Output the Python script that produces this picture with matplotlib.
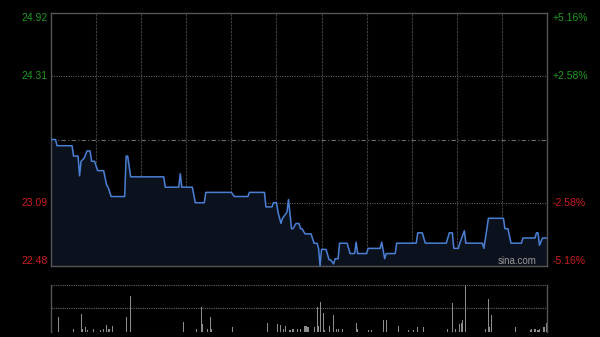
import matplotlib
matplotlib.use("Agg")
import matplotlib.pyplot as plt
import matplotlib.transforms as mtransforms

plt.rcParams['font.family'] = ['Liberation Sans', 'DejaVu Sans']

# intraday price (minute of the 330-minute session, price)
times = [0, 3, 4, 14, 15, 18, 19, 20, 22, 24, 26, 27, 29, 31, 35, 37, 38, 40, 49, 50,
         51, 53, 75, 76, 85, 86, 87, 94, 96, 102, 103, 120, 122, 131, 132, 142, 143, 147, 148, 150,
         151, 153, 154, 157, 158, 160, 161, 163, 165, 166, 167, 169, 173, 175, 177, 178, 179, 180, 183, 185,
         186, 188, 189, 191, 192, 197, 199, 202, 203, 204, 210, 211, 219, 220, 222, 223, 229, 230, 243, 244,
         247, 249, 263, 265, 267, 268, 271, 272, 275, 276, 287, 288, 290, 291, 301, 302, 304, 306, 313, 314,
         322, 323, 324, 325, 327, 330]
prices = [23.70, 23.70, 23.64, 23.64, 23.54, 23.54, 23.35, 23.49, 23.52, 23.59, 23.59, 23.49, 23.49, 23.40, 23.40, 23.26, 23.24, 23.15, 23.15, 23.54,
          23.54, 23.34, 23.34, 23.24, 23.24, 23.37, 23.24, 23.24, 23.09, 23.09, 23.19, 23.19, 23.15, 23.15, 23.19, 23.19, 23.05, 23.05, 23.09, 23.09,
          23.00, 22.89, 22.94, 23.00, 23.12, 22.84, 22.84, 22.89, 22.89, 22.84, 22.84, 22.79, 22.79, 22.70, 22.70, 22.65, 22.48, 22.64, 22.64, 22.54,
          22.54, 22.50, 22.55, 22.55, 22.70, 22.70, 22.60, 22.60, 22.71, 22.60, 22.60, 22.65, 22.65, 22.71, 22.55, 22.60, 22.60, 22.70, 22.70, 22.80,
          22.80, 22.70, 22.70, 22.80, 22.80, 22.65, 22.65, 22.70, 22.82, 22.70, 22.70, 22.65, 22.84, 22.94, 22.94, 22.84, 22.84, 22.70, 22.70, 22.75,
          22.75, 22.80, 22.80, 22.68, 22.75, 22.75]

# volume (relative, tallest bar = 100)
vol_times = [5, 15, 20, 21, 23, 24, 28, 33, 35, 37, 38, 39, 41, 50, 53, 88, 97, 100, 101, 104,
             106, 107, 121, 144, 151, 153, 155, 156, 159, 161, 164, 166, 169, 170, 171, 175, 177, 178, 179, 181,
             182, 185, 188, 190, 191, 194, 203, 204, 211, 213, 221, 223, 231, 238, 241, 244, 248, 264, 267, 269,
             272, 273, 274, 276, 289, 291, 292, 293, 309, 319, 320, 322, 324, 325, 328, 330]
vol_values = [31, 5, 37, 5, 9, 4, 5, 3, 5, 14, 5, 6, 12, 31, 76, 21, 6, 52, 16, 6,
              31, 5, 9, 19, 16, 14, 5, 12, 4, 6, 5, 5, 12, 12, 9, 9, 52, 12, 64, 41,
              4, 12, 35, 6, 5, 5, 19, 5, 4, 4, 26, 25, 12, 4, 4, 9, 9, 6, 61, 5,
              16, 19, 25, 100, 6, 71, 9, 35, 9, 4, 5, 6, 4, 5, 9, 19]

prev_close = 23.70
price_levels = [24.92, 24.31, 23.09, 22.48]
price_labels = ["24.92", "24.31", "23.09", "22.48"]
pct_labels = ["+5.16%", "+2.58%", "-2.58%", "-5.16%"]

fig = plt.figure(figsize=(6, 3.37), dpi=100, facecolor='black')
ax = fig.add_axes([51 / 600, 71 / 337, 496 / 600, 253 / 337])
axv = fig.add_axes([51 / 600, 5.3 / 337, 496 / 600, 46.7 / 337])

for a in (ax, axv):
    a.set_facecolor('black')
    a.set_xlim(0, 330)
    a.set_xticks([])
    a.set_yticks([])
    for s in a.spines.values():
        s.set_color('#555555')
        s.set_linewidth(1)

# main panel
ax.set_ylim(price_levels[-1], price_levels[0])
for m in range(30, 330, 30):
    ax.axvline(m, color='#404040', lw=0.8, ls=(0, (2, 1)), zorder=1)
for lv in price_levels[1:3]:
    ax.axhline(lv, color='#707070', lw=0.7, ls=(0, (1, 1.5)), zorder=1)
ax.axhline(prev_close, color='#6a6a6a', lw=0.8, ls=(0, (4, 2, 1, 2)), zorder=1)

ax.fill_between(times, prices, price_levels[-1], color='#0b111d', zorder=2)
ax.plot(times, prices, color='#4a7fd4', lw=1.1, zorder=3)

blend_l = mtransforms.blended_transform_factory(fig.transFigure, ax.transData)
vas = ['top', 'center', 'center', 'bottom']
colors = ['#1f9a1f', '#1f9a1f', '#cc1f1f', '#cc1f1f']
for lv, pl, pc, va, c in zip(price_levels, price_labels, pct_labels, vas, colors):
    ax.text(47.5 / 600, lv, pl, transform=blend_l, ha='right', va=va, color=c, fontsize=7.5)
    ax.text(553 / 600, lv, pc, transform=blend_l, ha='left', va=va, color=c, fontsize=7.5)

# watermark
ax.text(537 / 600, (337 - 261.5) / 337, 'sina.com', transform=fig.transFigure,
        ha='right', va='center', color='#9a9a9a', fontsize=7, zorder=4)

# volume panel
axv.set_ylim(0, 100)
axv.spines['top'].set_visible(False)
axv.spines['bottom'].set_visible(False)
for lv in (0, 50, 100):
    axv.axhline(lv, color='#666666', lw=0.8, ls=(0, (1, 1)), zorder=1)
axv.bar(vol_times, vol_values, width=0.7, color='#8c8c8c', zorder=2)

fig.savefig('out.png', dpi=100, facecolor='black')
